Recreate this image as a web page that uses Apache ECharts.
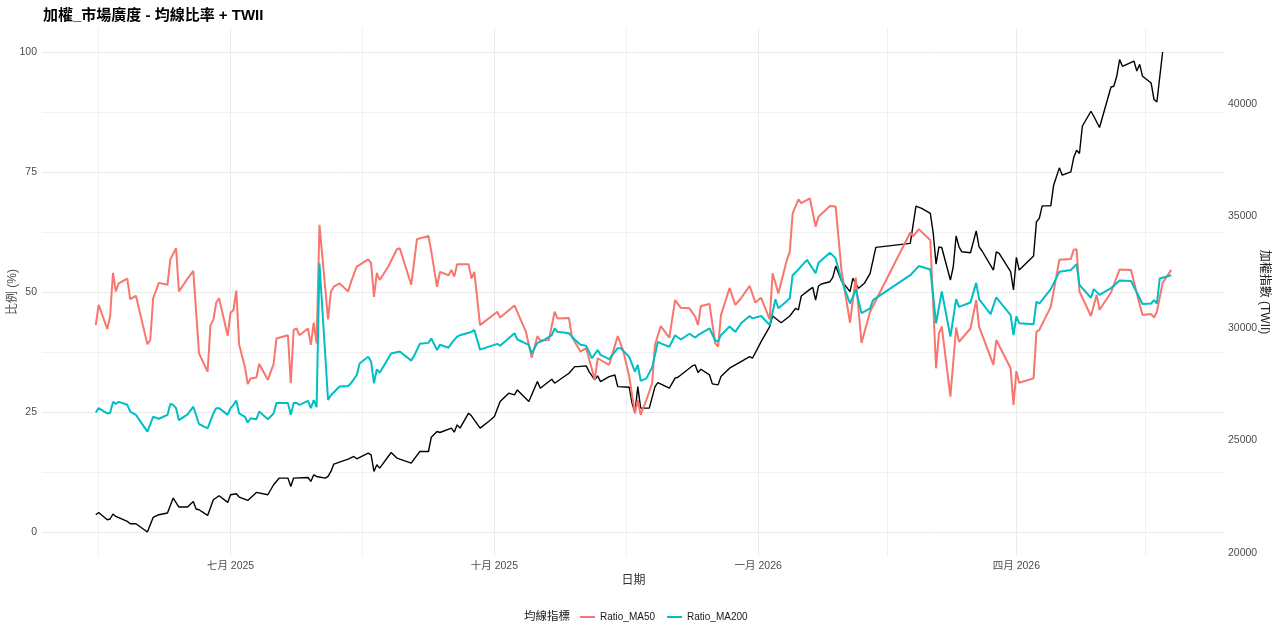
<!DOCTYPE html>
<html>
<head>
<meta charset="utf-8">
<title>加權_市場廣度</title>
<script src="https://cdn.jsdelivr.net/npm/echarts@6/dist/echarts.min.js"></script>
<style>
  html, body { margin: 0; padding: 0; background: #fff; }
  #chart { width: 1279px; height: 637px; }
</style>
</head>
<body>
<div id="chart"></div>
<script>
// 均線比率 (%) 與 加權指數, 數值從圖上讀出
var ma50Dates = ['2025-05-15','2025-05-16','2025-05-19','2025-05-20','2025-05-21','2025-05-22','2025-05-23','2025-05-26','2025-05-27','2025-05-29',
  '2025-06-02','2025-06-03','2025-06-04','2025-06-06','2025-06-09','2025-06-10','2025-06-12','2025-06-13','2025-06-16','2025-06-18',
  '2025-06-20','2025-06-23','2025-06-24','2025-06-25','2025-06-26','2025-06-27','2025-06-30','2025-07-01','2025-07-02','2025-07-03',
  '2025-07-04','2025-07-06','2025-07-07','2025-07-08','2025-07-10','2025-07-11','2025-07-14','2025-07-16','2025-07-17','2025-07-21',
  '2025-07-22','2025-07-23','2025-07-24','2025-07-25','2025-07-28','2025-07-29','2025-07-30','2025-07-31','2025-08-01','2025-08-04',
  '2025-08-05','2025-08-06','2025-08-08','2025-08-11','2025-08-12','2025-08-14','2025-08-18','2025-08-19','2025-08-20','2025-08-21',
  '2025-08-22','2025-08-25','2025-08-28','2025-08-29','2025-09-02','2025-09-04','2025-09-08','2025-09-09','2025-09-11','2025-09-12',
  '2025-09-15','2025-09-16','2025-09-17','2025-09-18','2025-09-22','2025-09-23','2025-09-24','2025-09-26','2025-10-02','2025-10-03',
  '2025-10-08','2025-10-12','2025-10-14','2025-10-16','2025-10-17','2025-10-20','2025-10-22','2025-10-23','2025-10-27','2025-10-28',
  '2025-10-31','2025-11-02','2025-11-05','2025-11-06','2025-11-10','2025-11-13','2025-11-15','2025-11-17','2025-11-19','2025-11-20',
  '2025-11-21','2025-11-23','2025-11-25','2025-11-26','2025-11-28','2025-12-01','2025-12-03','2025-12-05','2025-12-08','2025-12-10',
  '2025-12-11','2025-12-12','2025-12-15','2025-12-17','2025-12-18','2025-12-19','2025-12-22','2025-12-24','2025-12-26','2025-12-29',
  '2025-12-31','2026-01-02','2026-01-05','2026-01-06','2026-01-08','2026-01-11','2026-01-12','2026-01-13','2026-01-15','2026-01-16',
  '2026-01-19','2026-01-21','2026-01-22','2026-01-26','2026-01-28','2026-01-30','2026-02-02','2026-02-04','2026-02-06','2026-02-09',
  '2026-02-23','2026-02-24','2026-02-26','2026-03-02','2026-03-04','2026-03-05','2026-03-06','2026-03-09','2026-03-11','2026-03-12',
  '2026-03-16','2026-03-18','2026-03-19','2026-03-24','2026-03-25','2026-03-30','2026-03-31','2026-04-01','2026-04-02','2026-04-07',
  '2026-04-08','2026-04-09','2026-04-13','2026-04-16','2026-04-20','2026-04-21','2026-04-22','2026-04-23','2026-04-27','2026-04-29',
  '2026-04-30','2026-05-04','2026-05-07','2026-05-11','2026-05-13','2026-05-15','2026-05-18','2026-05-19','2026-05-20','2026-05-22',
  '2026-05-25'];
var ma50Values = [43.1,47.3,42.3,44.9,54.0,50.1,51.8,52.8,48.5,49.2,
  39.1,40.0,48.7,51.9,51.5,56.8,59.1,50.1,52.8,54.4,
  37.2,33.4,43.1,44.2,47.8,48.7,40.9,45.7,46.2,50.3,
  39.0,34.4,30.8,32.0,32.2,35.0,31.7,35.0,40.3,41.0,
  31.0,42.1,42.4,41.0,42.4,39.0,43.6,39.3,64.0,44.3,
  50.1,51.1,51.8,50.1,52.1,55.3,56.8,56.0,49.0,54.0,
  52.5,55.3,58.9,59.1,51.5,61.0,61.7,58.4,51.1,54.2,
  53.5,54.6,53.2,55.8,55.8,52.8,54.2,43.1,45.9,44.7,
  47.2,41.7,36.3,40.8,39.9,40.0,45.9,44.5,44.6,40.7,
  37.6,38.3,31.7,36.2,34.8,40.8,37.6,32.4,24.7,27.5,
  24.4,27.5,31.0,39.0,42.9,40.5,48.3,46.7,46.6,44.9,
  43.1,47.1,47.5,39.3,38.6,45.2,50.8,47.3,48.7,51.3,
  47.8,48.8,44.3,53.9,49.7,56.7,58.4,66.4,69.3,68.5,
  69.5,63.6,65.7,67.9,67.8,54.6,43.6,53.0,39.4,45.9,
  62.4,61.6,63.1,60.8,34.1,41.4,42.8,28.2,42.6,39.6,
  42.4,48.3,42.8,34.8,40.0,34.1,26.5,33.5,31.1,32.0,
  41.7,42.1,46.9,56.7,56.9,58.8,58.9,50.1,45.0,49.4,
  46.3,49.9,54.7,54.6,49.7,45.2,45.4,44.7,45.9,51.9,
  54.6];

var ma200Dates = ['2025-05-15','2025-05-16','2025-05-19','2025-05-20','2025-05-21','2025-05-22','2025-05-23','2025-05-26','2025-05-27','2025-05-29',
  '2025-06-02','2025-06-04','2025-06-06','2025-06-09','2025-06-10','2025-06-11','2025-06-12','2025-06-13','2025-06-16','2025-06-18',
  '2025-06-20','2025-06-23','2025-06-25','2025-06-26','2025-06-27','2025-06-30','2025-07-01','2025-07-02','2025-07-03','2025-07-04',
  '2025-07-06','2025-07-07','2025-07-08','2025-07-10','2025-07-11','2025-07-14','2025-07-16','2025-07-17','2025-07-21','2025-07-22',
  '2025-07-23','2025-07-24','2025-07-25','2025-07-28','2025-07-29','2025-07-30','2025-07-31','2025-08-01','2025-08-04','2025-08-05',
  '2025-08-08','2025-08-11','2025-08-12','2025-08-14','2025-08-15','2025-08-18','2025-08-19','2025-08-20','2025-08-21','2025-08-22',
  '2025-08-26','2025-08-29','2025-09-02','2025-09-03','2025-09-05','2025-09-08','2025-09-09','2025-09-11','2025-09-12','2025-09-15',
  '2025-09-16','2025-09-18','2025-09-19','2025-09-22','2025-09-23','2025-09-24','2025-09-26','2025-10-02','2025-10-03','2025-10-08',
  '2025-10-09','2025-10-13','2025-10-14','2025-10-16','2025-10-18','2025-10-21','2025-10-22','2025-10-23','2025-10-27','2025-10-29',
  '2025-10-31','2025-11-02','2025-11-04','2025-11-06','2025-11-07','2025-11-10','2025-11-13','2025-11-14','2025-11-17','2025-11-19',
  '2025-11-20','2025-11-21','2025-11-23','2025-11-25','2025-11-27','2025-11-28','2025-12-01','2025-12-03','2025-12-05','2025-12-08',
  '2025-12-10','2025-12-11','2025-12-15','2025-12-17','2025-12-18','2025-12-19','2025-12-22','2025-12-24','2025-12-26','2025-12-29',
  '2025-12-30','2026-01-02','2026-01-05','2026-01-07','2026-01-08','2026-01-10','2026-01-12','2026-01-13','2026-01-15','2026-01-18',
  '2026-01-21','2026-01-22','2026-01-26','2026-01-28','2026-01-30','2026-02-02','2026-02-04','2026-02-06','2026-02-09','2026-02-10',
  '2026-02-23','2026-02-26','2026-03-02','2026-03-04','2026-03-06','2026-03-09','2026-03-11','2026-03-12','2026-03-16','2026-03-18',
  '2026-03-19','2026-03-23','2026-03-25','2026-03-30','2026-03-31','2026-04-01','2026-04-02','2026-04-07','2026-04-08','2026-04-09',
  '2026-04-13','2026-04-16','2026-04-20','2026-04-22','2026-04-23','2026-04-27','2026-04-28','2026-04-30','2026-05-04','2026-05-07',
  '2026-05-11','2026-05-13','2026-05-15','2026-05-18','2026-05-19','2026-05-20','2026-05-21','2026-05-25'];
var ma200Values = [24.9,25.8,24.7,24.8,27.1,26.7,27.1,26.5,25.1,24.4,
  20.9,24.0,23.6,24.4,26.7,26.5,25.8,23.3,24.5,26.1,
  22.5,21.6,24.7,25.8,25.8,24.4,25.8,26.5,27.4,24.7,
  24.0,22.8,23.7,23.5,25.1,23.5,24.7,26.9,26.9,24.4,
  26.9,26.9,26.5,27.3,25.8,27.5,26.0,56.0,27.5,28.5,
  30.3,30.4,31.0,32.7,35.1,36.5,35.5,31.0,33.9,33.2,
  37.2,37.6,35.7,36.7,39.2,39.4,40.3,37.9,39.0,38.4,
  39.3,40.7,41.0,41.5,41.7,42.1,38.0,39.2,38.8,41.4,
  40.1,39.0,37.2,39.4,39.9,41.0,42.4,41.7,41.4,40.1,
  39.0,38.8,36.2,37.9,36.9,36.0,38.3,38.3,36.5,33.4,
  34.8,31.5,32.0,34.3,39.6,39.3,38.6,41.0,40.1,41.3,
  40.5,41.0,42.4,39.9,39.7,41.0,42.8,41.7,43.5,45.0,
  44.5,45.0,43.1,48.5,46.6,47.6,48.7,53.5,54.7,56.7,
  53.9,56.1,58.2,57.0,52.5,47.6,50.5,45.6,46.6,48.3,
  53.5,55.4,54.7,43.5,50.1,40.7,48.5,46.9,47.8,51.9,
  48.5,45.4,48.9,45.2,41.0,44.9,43.5,43.3,48.0,47.6,
  50.6,54.2,54.6,55.8,51.5,48.8,50.6,49.4,50.8,52.4,
  52.3,49.9,47.5,47.6,48.3,47.6,52.8,53.5];

var twiiDates = ['2025-05-15','2025-05-16','2025-05-19','2025-05-20','2025-05-21','2025-05-22','2025-05-26','2025-05-27','2025-05-29','2025-06-02',
  '2025-06-04','2025-06-06','2025-06-09','2025-06-11','2025-06-13','2025-06-16','2025-06-18','2025-06-19','2025-06-20','2025-06-23',
  '2025-06-25','2025-06-27','2025-06-30','2025-07-01','2025-07-03','2025-07-04','2025-07-07','2025-07-10','2025-07-14','2025-07-16',
  '2025-07-18','2025-07-21','2025-07-22','2025-07-23','2025-07-28','2025-07-29','2025-07-30','2025-07-31','2025-08-03','2025-08-04',
  '2025-08-05','2025-08-06','2025-08-11','2025-08-13','2025-08-14','2025-08-18','2025-08-19','2025-08-20','2025-08-21','2025-08-22',
  '2025-08-26','2025-08-28','2025-09-02','2025-09-03','2025-09-05','2025-09-08','2025-09-09','2025-09-11','2025-09-12','2025-09-16',
  '2025-09-17','2025-09-18','2025-09-19','2025-09-22','2025-09-23','2025-09-26','2025-09-29','2025-10-01','2025-10-03','2025-10-06',
  '2025-10-08','2025-10-09','2025-10-13','2025-10-16','2025-10-17','2025-10-21','2025-10-22','2025-10-27','2025-10-29','2025-10-30',
  '2025-11-02','2025-11-03','2025-11-05','2025-11-06','2025-11-07','2025-11-10','2025-11-12','2025-11-13','2025-11-17','2025-11-18',
  '2025-11-19','2025-11-20','2025-11-21','2025-11-24','2025-11-26','2025-11-27','2025-12-01','2025-12-03','2025-12-04','2025-12-08',
  '2025-12-09','2025-12-10','2025-12-11','2025-12-12','2025-12-15','2025-12-16','2025-12-18','2025-12-19','2025-12-22','2025-12-26',
  '2025-12-29','2025-12-30','2026-01-02','2026-01-05','2026-01-06','2026-01-09','2026-01-12','2026-01-14','2026-01-15','2026-01-16',
  '2026-01-19','2026-01-20','2026-01-21','2026-01-22','2026-01-23','2026-01-26','2026-01-27','2026-01-28','2026-01-30','2026-02-02',
  '2026-02-03','2026-02-05','2026-02-07','2026-02-09','2026-02-11','2026-02-23','2026-02-25','2026-02-27','2026-03-02','2026-03-03',
  '2026-03-04','2026-03-05','2026-03-06','2026-03-09','2026-03-10','2026-03-11','2026-03-12','2026-03-13','2026-03-16','2026-03-18',
  '2026-03-19','2026-03-20','2026-03-24','2026-03-25','2026-03-26','2026-03-30','2026-03-31','2026-04-01','2026-04-02','2026-04-07',
  '2026-04-08','2026-04-09','2026-04-10','2026-04-13','2026-04-14','2026-04-16','2026-04-17','2026-04-20','2026-04-21','2026-04-22',
  '2026-04-23','2026-04-24','2026-04-27','2026-04-28','2026-04-30','2026-05-04','2026-05-05','2026-05-06','2026-05-07','2026-05-08',
  '2026-05-12','2026-05-13','2026-05-14','2026-05-15','2026-05-18','2026-05-19','2026-05-20','2026-05-22'];
var twiiValues = [21693,21795,21470,21501,21724,21617,21394,21292,21292,20922,
  21572,21693,21768,22436,22035,22035,22286,21946,21915,21661,
  22361,22539,22242,22583,22628,22481,22330,22687,22583,23029,
  23327,23327,22954,23327,23354,23176,23474,23400,23327,23400,
  23622,23950,24173,24291,24187,24440,24365,23622,23920,23772,
  24467,24218,23995,24173,24512,24512,25153,25403,25359,25553,
  25376,25701,25553,26222,26102,25553,25849,26071,26739,27113,
  27037,27260,26739,27630,27335,27736,27558,28004,28298,28298,
  28329,28075,27705,27884,27630,27853,27923,27407,27380,26668,
  26222,27407,26445,26445,27407,27585,27335,27781,27825,28227,
  28329,28374,28031,28182,27928,27527,27483,27853,28227,28520,
  28743,28672,29411,30080,30556,30257,30556,30899,30824,31447,
  31745,31834,31268,31892,31981,32084,32279,32783,32128,31640,
  32235,31790,32012,32458,33616,33794,35456,35352,35130,34266,
  32872,33642,33598,32160,32752,34132,33642,33420,33375,34355,
  33642,33465,32605,33420,33349,32530,31716,33170,32605,33229,
  34756,34908,35469,35469,36391,37162,36836,36984,37624,37949,
  37802,39018,39687,39464,38961,40769,40800,41246,41989,41691,
  41928,41483,41780,41246,40947,40208,40101,42330];

// 軸刻度
var ratioTicks = [0, 25, 50, 75, 100];
var ratioGrid = [0, 12.5, 25, 37.5, 50, 62.5, 75, 87.5, 100];
var twiiTicks = [20000, 25000, 30000, 35000, 40000];
var monthTicks = ['2025-07-01', '2025-10-01', '2026-01-01', '2026-04-01'];
var monthGrid = ['2025-05-16', '2025-07-01', '2025-08-16', '2025-10-01', '2025-11-16', '2026-01-01', '2026-02-15', '2026-04-01', '2026-05-16'];
var monthNames = ['一月','二月','三月','四月','五月','六月','七月','八月','九月','十月','十一月','十二月'];

var RED = '#F8766D', CYAN = '#00BFC4';
var FONT = "'Liberation Sans', 'Noto Sans CJK TC', sans-serif";

function ts(d) { return new Date(d + 'T00:00:00').getTime(); }
function pairs(dates, vals) {
  return dates.map(function (d, i) { return [ts(d), vals[i]]; });
}

// ggplot 的 5% 邊界
var allT = ma50Dates.concat(ma200Dates, twiiDates).map(ts);
var tMin = Math.min.apply(null, allT), tMax = Math.max.apply(null, allT);
var tPad = (tMax - tMin) * 0.05;
var wMin = Math.min.apply(null, twiiValues), wMax = Math.max.apply(null, twiiValues);
var wPad = (wMax - wMin) * 0.05;

var chart = echarts.init(document.getElementById('chart'));
chart.setOption({
  animation: false,
  backgroundColor: '#fff',
  textStyle: { fontFamily: FONT },
  title: {
    text: '加權_市場廣度 - 均線比率 + TWII',
    left: 38, top: 3,
    textStyle: { fontSize: 15, fontWeight: 'bold', color: '#000', fontFamily: FONT }
  },
  legend: {
    left: 575, top: 607,
    icon: 'rect', itemWidth: 15, itemHeight: 2, itemGap: 12,
    textStyle: { fontSize: 10, color: '#1a1a1a' },
    data: ['Ratio_MA50', 'Ratio_MA200']
  },
  graphic: [{
    type: 'text', left: 524, top: 611,
    style: { text: '均線指標', fontSize: 11.5, fill: '#1a1a1a', fontFamily: FONT }
  }],
  grid: { left: 42, right: 54, top: 28, bottom: 81, containLabel: false, outerBoundsMode: 'none' },
  xAxis: {
    type: 'value',
    min: tMin - tPad, max: tMax + tPad,
    name: '日期', nameLocation: 'middle', nameGap: 19, nameMoveOverlap: false,
    nameTextStyle: { fontSize: 12, color: '#333' },
    axisLine: { show: false },
    axisTick: { show: false, customValues: monthGrid.map(ts) },
    axisLabel: {
      customValues: monthTicks.map(ts), margin: 5,
      fontSize: 10.5, color: '#4d4d4d',
      formatter: function (v) {
        var d = new Date(v);
        return monthNames[d.getMonth()] + ' ' + d.getFullYear();
      }
    },
    splitLine: { show: true, lineStyle: { color: ['#f1f1f1', '#ebebeb'], width: 1 } }
  },
  yAxis: [{
    type: 'value', position: 'left',
    min: -5, max: 105,
    name: '比例 (%)', nameLocation: 'middle', nameGap: 23, nameMoveOverlap: false,
    nameTextStyle: { fontSize: 12, color: '#4d4d4d' },
    axisLine: { show: false },
    axisTick: { show: false, customValues: ratioGrid },
    axisLabel: { customValues: ratioTicks, margin: 5, fontSize: 10.5, color: '#4d4d4d' },
    splitLine: { show: true, lineStyle: { color: ['#ebebeb', '#f1f1f1'], width: 1 } }
  }, {
    type: 'value', position: 'right',
    min: wMin - wPad, max: wMax + wPad,
    name: '加權指數 (TWII)', nameLocation: 'middle', nameGap: 33, nameRotate: -90, nameMoveOverlap: false,
    nameTextStyle: { fontSize: 12, color: '#222' },
    axisLine: { show: false },
    axisTick: { show: false, customValues: twiiTicks },
    axisLabel: {
      customValues: twiiTicks, margin: 3, fontSize: 10.5, color: '#4d4d4d',
      formatter: function (v) { return String(v); }
    },
    splitLine: { show: false }
  }],
  series: [{
    name: 'TWII', type: 'line', yAxisIndex: 1,
    data: pairs(twiiDates, twiiValues),
    showSymbol: false, silent: true,
    lineStyle: { color: '#000', width: 1.4 }, itemStyle: { color: '#000' }
  }, {
    name: 'Ratio_MA50', type: 'line', yAxisIndex: 0,
    data: pairs(ma50Dates, ma50Values),
    showSymbol: false, silent: true,
    lineStyle: { color: RED, width: 2 }, itemStyle: { color: RED }
  }, {
    name: 'Ratio_MA200', type: 'line', yAxisIndex: 0,
    data: pairs(ma200Dates, ma200Values),
    showSymbol: false, silent: true,
    lineStyle: { color: CYAN, width: 2 }, itemStyle: { color: CYAN }
  }]
});
</script>
</body>
</html>
